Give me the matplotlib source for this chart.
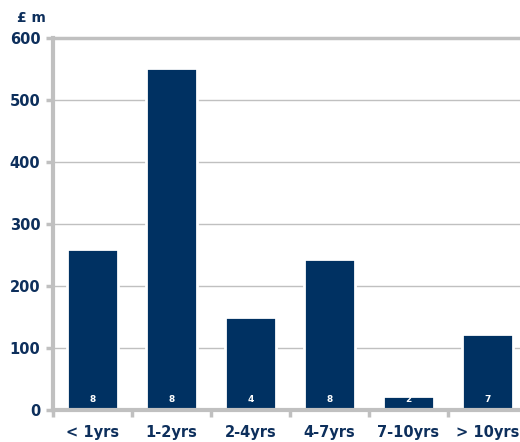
import matplotlib.pyplot as plt

# Data
categories = ['< 1yrs', '1-2yrs', '2-4yrs', '4-7yrs', '7-10yrs', '> 10yrs']
values = [259, 552, 150, 243, 22, 123]
counts = [8, 8, 4, 8, 2, 7]

NAVY = '#003162'
TEXT = '#0d2f5c'
GRID = '#c0c0c0'

plt.rcParams['font.family'] = 'DejaVu Sans'

fig = plt.figure(figsize=(5.2, 4.42), dpi=100)
ax = fig.add_axes([53 / 520, 32 / 442, 474 / 520, 372 / 442])

x = range(len(categories))
bars = ax.bar(x, values, width=0.64, color=NAVY, edgecolor='white',
              linewidth=2, zorder=3)

for xi, c in zip(x, counts):
    ax.text(xi, 10, str(c), ha='center', va='bottom', color='white',
            fontsize=6.5, fontweight='bold', zorder=4)

ax.set_xlim(-0.5, len(categories) - 0.5)
ax.set_ylim(0, 600)
ax.set_yticks(range(0, 601, 100))
ax.set_xticks([i - 0.5 for i in range(len(categories) + 1)], minor=False)
ax.set_xticklabels([])
ax.set_xticks(list(x), minor=True)
ax.set_xticklabels(categories, minor=True)
ax.tick_params(axis='x', which='minor', length=0, pad=11, labelsize=10.5,
               labelcolor=TEXT)
ax.tick_params(axis='x', which='major', length=5, width=2.5, color=GRID)
ax.tick_params(axis='y', length=5, width=2.5, color=GRID, labelsize=10.5,
               labelcolor=TEXT, pad=4)
for lbl in ax.get_xticklabels(minor=True) + ax.get_yticklabels():
    lbl.set_fontweight('bold')

ax.yaxis.grid(True, color=GRID, linewidth=1, zorder=0)
ax.set_axisbelow(True)
for side in ['left', 'bottom', 'top']:
    ax.spines[side].set_color(GRID)
    ax.spines[side].set_linewidth(3 if side != 'top' else 2.5)
    ax.spines[side].set_zorder(5)
ax.spines['right'].set_visible(False)

fig.text(17 / 520, 1 - 18 / 442, '£ m', ha='left', va='center',
         color=TEXT, fontsize=10, fontweight='bold')

fig.savefig('out.png', dpi=100)
